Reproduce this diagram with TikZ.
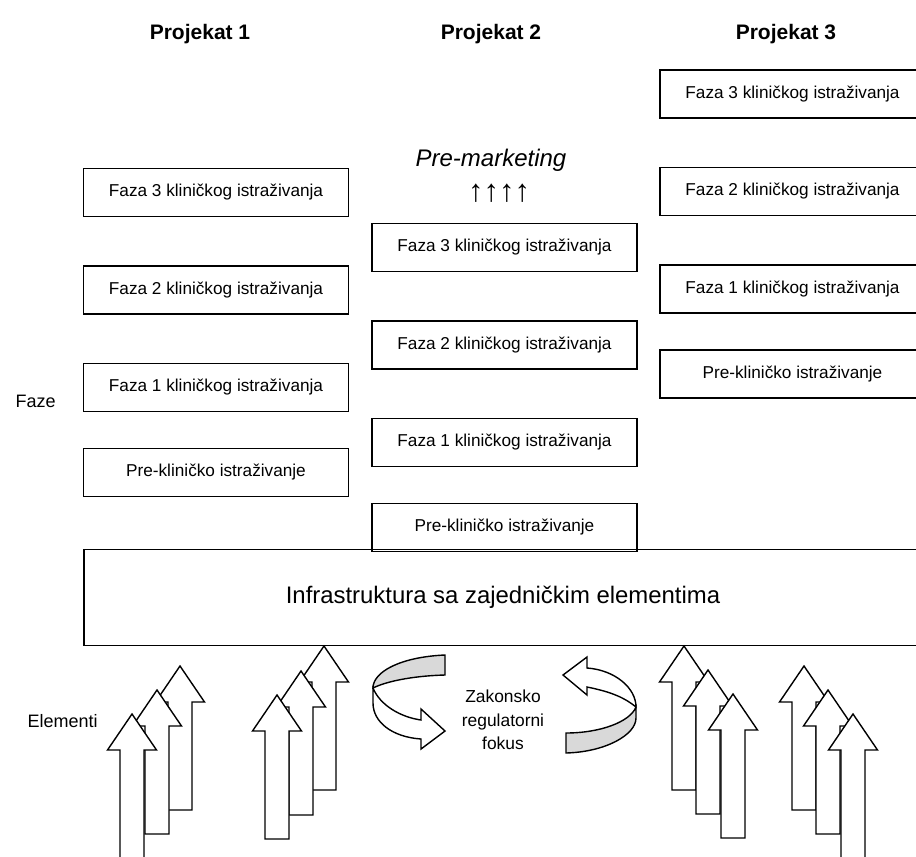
\documentclass[tikz,border=0pt]{standalone}
\usepackage{fontspec}
\setmainfont{Liberation Sans}
\usetikzlibrary{positioning}
\definecolor{siva}{RGB}{217,217,217}
\newcommand{\elstrelica}[2]{\draw[strelica] (#1,#2) -- ++(24.5,36) -- ++(-12.5,0) -- ++(0,108) -- ++(-24,0) -- ++(0,-108) -- ++(-12.5,0) -- cycle;}

\begin{document}
\begin{tikzpicture}[x=1pt,y=-1pt,
  faza/.style={draw,line width=1.5pt,minimum width=265pt,minimum height=48pt,inner sep=0pt,font=\fontsize{17.2}{20}\selectfont},
  naslov/.style={anchor=base,font=\fontsize{21}{24}\selectfont\bfseries},
  oznaka/.style={anchor=base west,font=\fontsize{18}{21}\selectfont},
  strelica/.style={draw,fill=white,line width=1.4pt,line join=miter},
  traka/.style={draw,line width=1.4pt,line join=miter}]
  \clip (0,0) rectangle (916,857);
  % naslovi
  \node[naslov] (proj1) at (200,39) {Projekat 1};
  \node[naslov] (proj2) at (491,39) {Projekat 2};
  \node[naslov] (proj3) at (786,39) {Projekat 3};
  % projekat 1
  \node[faza] (p1f3) at (216,192.5) {Faza 3 kliničkog istraživanja};
  \node[faza,below=48pt of p1f3] (p1f2) {Faza 2 kliničkog istraživanja};
  \node[faza,below=48pt of p1f2] (p1f1) {Faza 1 kliničkog istraživanja};
  \node[faza,below=35.5pt of p1f1] (p1pre) {Pre-kliničko istraživanje};
  % projekat 2
  \node[faza] (p2f3) at (504.5,247.5) {Faza 3 kliničkog istraživanja};
  \node[faza,below=48pt of p2f3] (p2f2) {Faza 2 kliničkog istraživanja};
  \node[faza,below=48pt of p2f2] (p2f1) {Faza 1 kliničkog istraživanja};
  \node[faza,below=35.5pt of p2f1] (p2pre) {Pre-kliničko istraživanje};
  \node[anchor=base,font=\fontsize{24}{27}\selectfont\itshape] (premkt) at (491,166) {Pre-marketing};
  \node[font=\fontsize{31}{33}\selectfont] (gore) at (499,193) {↑↑↑↑};
  % projekat 3
  \node[faza] (p3f3) at (792.5,94) {Faza 3 kliničkog istraživanja};
  \node[faza,below=48pt of p3f3] (p3f2) {Faza 2 kliničkog istraživanja};
  \node[faza,below=48pt of p3f2] (p3f1) {Faza 1 kliničkog istraživanja};
  \node[faza,below=35.5pt of p3f1] (p3pre) {Pre-kliničko istraživanje};
  % infrastruktura
  \node[faza,minimum width=838pt,minimum height=96pt,font=\fontsize{23.9}{26}\selectfont] (infra) at (503,597.5) {Infrastruktura sa zajedničkim elementima};
  \node[oznaka] (faze) at (12,407) {Faze};
  \node[oznaka] (elem) at (24,727) {Elementi};
  % elementi
  \foreach \x/\y in {180/666,157/690,132/714, 324/646,301/671,277/695, 684/646,708/670,733/694, 804/666,828/690,853/714}
    {\elstrelica{\x}{\y}}
  % zakonsko regulatorni fokus
  \draw[traka,fill=siva] (445,655) .. controls (400,657) and (373,672) .. (373,688)
    .. controls (385,682) and (410,676) .. (445,675) -- cycle;
  \draw[traka,fill=white] (373,688) .. controls (380,705) and (400,717) .. (421,720) -- (421,709) -- (445,731)
    -- (421,749) -- (421,739) .. controls (392,737) and (373,722) .. (373,703) -- cycle;
  \draw[traka,fill=white] (587,668) .. controls (615,670) and (636,688) .. (636,707)
    .. controls (625,698) and (612,692) .. (587,687) -- (587,695) -- (563,675) -- (587,657) -- cycle;
  \draw[traka,fill=siva] (636,707) .. controls (630,722) and (600,733) .. (566,733) -- (566,753)
    .. controls (605,752) and (636,735) .. (636,718) -- cycle;
  \node[align=center,font=\fontsize{17.4}{23.5}\selectfont] (fokus) at (503,720) {Zakonsko\\regulatorni\\fokus};
\end{tikzpicture}
\end{document}
